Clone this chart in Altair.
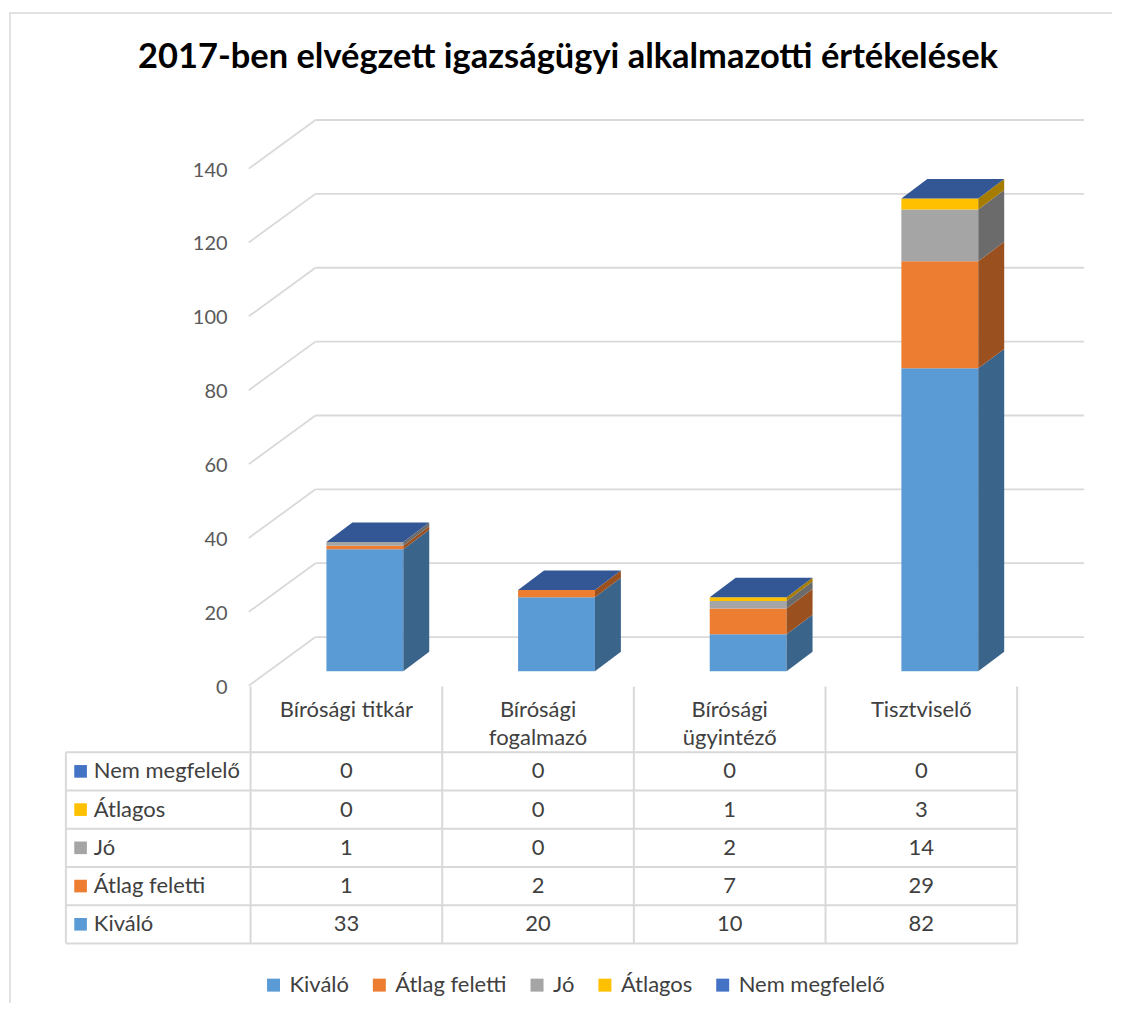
import altair as alt
import pandas as pd

# ---------------- data ----------------
categories = ["Bírósági titkár", "Bírósági fogalmazó", "Bírósági ügyintéző", "Tisztviselő"]
category_labels = ["Bírósági titkár", "Bírósági\nfogalmazó", "Bírósági\nügyintéző", "Tisztviselő"]
series = ["Kiváló", "Átlag feletti", "Jó", "Átlagos", "Nem megfelelő"]
kivalo = [33, 20, 10, 82]
atlag_feletti = [1, 2, 7, 29]
jo = [1, 0, 2, 14]
atlagos = [0, 0, 1, 3]
nem_megfelelo = [0, 0, 0, 0]
series_colors = ["#5B9BD5", "#ED7D31", "#A5A5A5", "#FFC000", "#4472C4"]
y_ticks = [0, 20, 40, 60, 80, 100, 120, 140]
table_row_order = ["Nem megfelelő", "Átlagos", "Jó", "Átlag feletti", "Kiváló"]
title_text = "2017-ben elvégzett igazságügyi alkalmazotti értékelések"

values = [kivalo, atlag_feletti, jo, atlagos, nem_megfelelo]

# ---------------- layout / style ----------------
W, H = 1105, 996
U_MIN, U_MAX = -242 / 192, 863 / 192
PXV = 3.7
BASE_PY = 671.5 - 8
V_MIN, V_MAX = (BASE_PY - H) / PXV, BASE_PY / PXV
ROW_PX = 38.3
ROW0_PY = 752.7 - 8
R_MIN, R_MAX = -ROW0_PY / ROW_PX, (H - ROW0_PY) / ROW_PX

BAR_L, BAR_R = 76 / 192, 153 / 192
DU, DV = 26 / 192, 19.5 / PXV
BACK_V, FRONT_V = 9.24, -3.92
WALL_L, WALL_R, AXIS_U = 65 / 192, 835 / 192, -0.009
LABEL_COL_L = -185 / 192
FONT = "Lato"
GRID = "#d9d9d9"
TXT = "#404040"
FS = 22


def shade(hexc, f):
    h = hexc.lstrip("#")
    r, g, b = (int(h[k:k + 2], 16) for k in (0, 2, 4))
    return "#%02x%02x%02x" % (int(r * f), int(g * f), int(b * f))


color_of = dict(zip(series, series_colors))

front, side, top = [], [], []
for i, cat in enumerate(categories):
    cum = 0
    for s, name in enumerate(series):
        v = values[s][i]
        seg = f"s{i}-{s}"
        front.append(dict(cat=cat, series=name, x=i + BAR_L, x2=i + BAR_R, y=cum, y2=cum + v))
        if v > 0:
            sc = shade(color_of[name], 0.65)
            side.append(dict(seg=seg, fc=sc, px=i + BAR_R, py=cum + v, py2=cum))
            side.append(dict(seg=seg, fc=sc, px=i + BAR_R + DU, py=cum + v + DV, py2=cum + DV))
        cum += v
    tc = shade(color_of[series[-1]], 0.76)
    T = cum
    seg = f"t{i}"
    top += [
        dict(seg=seg, fc=tc, px=i + BAR_L, py=T, py2=T),
        dict(seg=seg, fc=tc, px=i + BAR_L + DU, py=T + DV, py2=T),
        dict(seg=seg, fc=tc, px=i + BAR_R, py=T + DV, py2=T),
        dict(seg=seg, fc=tc, px=i + BAR_R + DU, py=T + DV, py2=T + DV),
    ]

front_df = pd.DataFrame(front)
side_df = pd.DataFrame(side)
top_df = pd.DataFrame(top)

grid_df = pd.DataFrame({"tick": y_ticks})
grid_df["yb"] = grid_df["tick"] + BACK_V
grid_df["yf"] = grid_df["tick"] + FRONT_V
grid_df["label"] = grid_df["tick"].astype(str)

xs = alt.Scale(domain=[U_MIN, U_MAX], nice=False, zero=False)
ys = alt.Scale(domain=[V_MIN, V_MAX], nice=False, zero=False)
rs = alt.Scale(domain=[R_MIN, R_MAX], nice=False, zero=False, reverse=True)

# ------------- plot layers -------------
grid_back = alt.Chart(grid_df).mark_rule(color=GRID, strokeWidth=1.8).encode(
    x=alt.X("xa:Q", scale=xs, axis=None), x2="xb:Q",
    y=alt.Y("yb:Q", scale=ys, axis=None),
).transform_calculate(xa=str(WALL_L), xb=str(WALL_R))

grid_diag = alt.Chart(grid_df).mark_rule(color=GRID, strokeWidth=1.8).encode(
    x=alt.X("xa:Q", scale=xs, axis=None), x2="xb:Q",
    y=alt.Y("yf:Q", scale=ys, axis=None), y2="yb:Q",
).transform_calculate(xa=str(AXIS_U), xb=str(WALL_L))

y_labels = alt.Chart(grid_df).mark_text(
    align="right", baseline="middle", dy=2, fontSize=20, font=FONT, color="#595959"
).encode(
    x=alt.X("xl:Q", scale=xs, axis=None),
    y=alt.Y("yf:Q", scale=ys, axis=None),
    text="label:N",
).transform_calculate(xl="-0.12")

bars = alt.Chart(front_df).mark_rect(strokeWidth=0).encode(
    x=alt.X("x:Q", scale=xs, axis=None), x2="x2:Q",
    y=alt.Y("y:Q", scale=ys, axis=None), y2="y2:Q",
    color=alt.Color(
        "series:N",
        scale=alt.Scale(domain=series, range=series_colors),
        legend=alt.Legend(
            orient="none", legendX=254, legendY=967, direction="horizontal",
            title=None, symbolType="square", symbolSize=169, symbolStrokeWidth=0,
            labelFontSize=FS, labelFont=FONT, labelColor=TXT, labelOffset=5,
            columnPadding=19, padding=0,
        ),
    ),
)

sides = alt.Chart(side_df).mark_area(orient="vertical", interpolate="linear", opacity=1).encode(
    x=alt.X("px:Q", scale=xs, axis=None),
    y=alt.Y("py:Q", scale=ys, axis=None, stack=None), y2="py2:Q",
    fill=alt.Fill("fc:N", scale=None),
    detail="seg:N",
)

tops = alt.Chart(top_df).mark_area(orient="vertical", interpolate="linear", opacity=1).encode(
    x=alt.X("px:Q", scale=xs, axis=None),
    y=alt.Y("py:Q", scale=ys, axis=None, stack=None), y2="py2:Q",
    fill=alt.Fill("fc:N", scale=None),
    detail="seg:N",
)

plot = alt.layer(grid_back, grid_diag, y_labels, bars, sides, tops)

# ------------- table layers -------------
hlines = pd.DataFrame({"r": list(range(len(table_row_order) + 1))})
hlines["xa"] = LABEL_COL_L
hlines["xb"] = float(len(categories))
vl = []
for k in range(len(categories) + 1):
    vl.append(dict(x=float(k), ra=-1.723, rb=float(len(table_row_order))))
vl.append(dict(x=LABEL_COL_L, ra=0.0, rb=float(len(table_row_order))))
vlines = pd.DataFrame(vl)

t_h = alt.Chart(hlines).mark_rule(color=GRID, strokeWidth=2).encode(
    x=alt.X("xa:Q", scale=xs, axis=None), x2="xb:Q",
    y=alt.Y("r:Q", scale=rs, axis=None),
)
t_v = alt.Chart(vlines).mark_rule(color=GRID, strokeWidth=2).encode(
    x=alt.X("x:Q", scale=xs, axis=None),
    y=alt.Y("ra:Q", scale=rs, axis=None), y2="rb:Q",
)

hdr_df = pd.DataFrame({"label": category_labels, "x": [i + 0.5 for i in range(len(categories))], "r": -0.924})
t_hdr = alt.Chart(hdr_df).mark_text(
    align="center", baseline="alphabetic", fontSize=FS, font=FONT, color=TXT,
    lineBreak="\n", lineHeight=28,
).encode(
    x=alt.X("x:Q", scale=xs, axis=None),
    y=alt.Y("r:Q", scale=rs, axis=None),
    text="label:N",
)

rowlab = []
cells = []
for r, name in enumerate(table_row_order):
    s = series.index(name)
    rowlab.append(dict(name=name, r=r + 0.5, fc=series_colors[s]))
    for i in range(len(categories)):
        cells.append(dict(val=str(values[s][i]), x=i + 0.5, r=r + 0.5))
rowlab_df = pd.DataFrame(rowlab)
cells_df = pd.DataFrame(cells)

t_sw = alt.Chart(rowlab_df).mark_square(size=160, opacity=1, strokeWidth=0).encode(
    x=alt.X("xs:Q", scale=xs, axis=None),
    y=alt.Y("r:Q", scale=rs, axis=None),
    fill=alt.Fill("fc:N", scale=None),
).transform_calculate(xs="-0.8869")

t_rl = alt.Chart(rowlab_df).mark_text(
    align="left", baseline="middle", fontSize=FS, font=FONT, color=TXT
).encode(
    x=alt.X("xt:Q", scale=xs, axis=None),
    y=alt.Y("r:Q", scale=rs, axis=None),
    text="name:N",
).transform_calculate(xt="-0.8177")

t_cells = alt.Chart(cells_df).mark_text(
    align="center", baseline="middle", fontSize=FS, font=FONT, color=TXT
).encode(
    x=alt.X("x:Q", scale=xs, axis=None),
    y=alt.Y("r:Q", scale=rs, axis=None),
    text="val:N",
)

table = alt.layer(t_h, t_v, t_hdr, t_sw, t_rl, t_cells)

# ------------- title and frame -------------
one = pd.DataFrame({"t": [title_text]})
title = alt.Chart(one).mark_text(
    align="center", baseline="alphabetic", fontSize=34.5, font=FONT, fontWeight="bold", color="#000000"
).encode(text="t:N", x=alt.value(560), y=alt.value(59.7))

frame_top = alt.Chart(one).mark_rule(color=GRID, strokeWidth=1.5).encode(
    x=alt.value(0), x2=alt.value(W), y=alt.value(4)
)
frame_left = alt.Chart(one).mark_rule(color=GRID, strokeWidth=1.5).encode(
    x=alt.value(1), y=alt.value(4), y2=alt.value(H)
)

chart = alt.layer(
    alt.layer(frame_top, frame_left, title, plot),
    table,
).resolve_scale(y="independent").properties(
    width=W, height=H, padding=0, background="white"
).configure_view(stroke=None)

chart.save("out.html", embed_options={"renderer": "svg", "actions": False})
